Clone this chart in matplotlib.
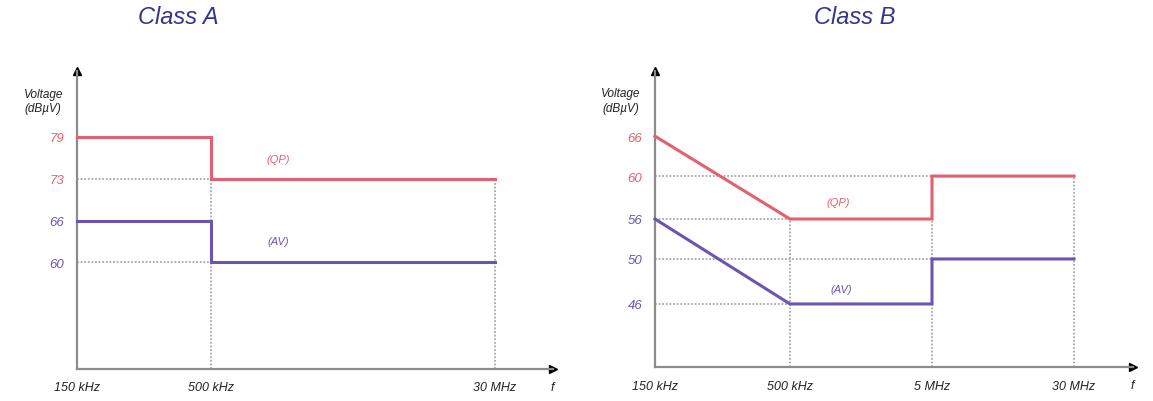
import numpy as np
import matplotlib.pyplot as plt

# conducted emission limits, frequency in MHz, level in dBuV
freq_a = [0.15, 0.5, 0.5, 30]
qp_a = [79, 79, 73, 73]
av_a = [66, 66, 60, 60]

freq_b = [0.15, 0.5, 5, 5, 30]
qp_b = [66, 56, 56, 60, 60]
av_b = [56, 46, 46, 50, 50]

xticks_a = [0.15, 0.5, 30]
xlabels_a = ['150 kHz', '500 kHz', '30 MHz']
xticks_b = [0.15, 0.5, 5, 30]
xlabels_b = ['150 kHz', '500 kHz', '5 MHz', '30 MHz']

yticks_a_qp = [79, 73]
yticks_a_av = [66, 60]
yticks_b_qp = [66, 60]
yticks_b_av = [56, 50, 46]

RED = '#e4606e'
PURPLE = '#6c54b4'
AXIS = '#8c8c8c'
GRID = '#a8a8a8'
FONT = 'Liberation Sans'


def piecewise(xs, ys):
    xs = np.asarray(xs, float)
    ys = np.asarray(ys, float)

    def f(v):
        v = np.asarray(v, float)
        out = np.interp(v, xs, ys)
        lo = ys[0] + (v - xs[0]) * (ys[1] - ys[0]) / (xs[1] - xs[0])
        hi = ys[-1] + (v - xs[-1]) * (ys[-1] - ys[-2]) / (xs[-1] - xs[-2])
        out = np.where(v < xs[0], lo, out)
        out = np.where(v > xs[-1], hi, out)
        return out
    return f


def freq_scale(freqs, pos):
    lf = np.log10(freqs)
    fw = piecewise(lf, pos)
    bw = piecewise(pos, lf)

    def forward(f):
        with np.errstate(divide='ignore', invalid='ignore'):
            return fw(np.log10(np.asarray(f, float)))

    def inverse(p):
        return 10 ** bw(p)
    return forward, inverse


def level_scale(levels, pos):
    return piecewise(levels, pos), piecewise(pos, levels)


W, H = 1153, 402
fig = plt.figure(figsize=(W / 100, H / 100), dpi=100)


def panel(left, right, top, bottom, xs, xpos, ys, ypos):
    ax = fig.add_axes([left / W, 1 - bottom / H, (right - left) / W, (bottom - top) / H])
    fx = freq_scale(xs, xpos)
    fy = level_scale(ys, ypos)
    ax.set_xscale('function', functions=fx)
    ax.set_yscale('function', functions=fy)
    ax.set_xlim(float(fx[1](0.0)), float(fx[1](1.0)))
    ax.set_ylim(float(fy[1](0.0)), float(fy[1](1.0)))
    for s in ['top', 'right']:
        ax.spines[s].set_visible(False)
    for s in ['left', 'bottom']:
        ax.spines[s].set_color(AXIS)
        ax.spines[s].set_linewidth(1.6)
    ax.plot([0], [1], marker='^', ms=6, color='black', transform=ax.transAxes, clip_on=False)
    ax.plot([1], [0], marker='>', ms=6, color='black', transform=ax.transAxes, clip_on=False)
    ax.tick_params(length=0)
    ax.patch.set_alpha(0)
    return ax


def dress(ax, xticks, xlabels, qp_ticks, av_ticks):
    ax.set_xticks(xticks)
    ax.set_xticklabels(xlabels, fontstyle='italic', fontfamily=FONT, fontsize=9, color='#222222')
    ax.tick_params(axis='x', pad=9)
    yt = qp_ticks + av_ticks
    ax.set_yticks(yt)
    ax.set_yticklabels([str(v) for v in yt], fontstyle='italic', fontfamily=FONT, fontsize=9.5)
    for lab, v in zip(ax.get_yticklabels(), yt):
        lab.set_color(RED if v in qp_ticks else PURPLE)
    ax.tick_params(axis='y', pad=9)
    ax.text(-0.071, 0.9, 'Voltage\n(dBµV)', transform=ax.transAxes, ha='center', va='center',
            fontsize=8.5, fontstyle='italic', fontfamily=FONT, color='#222222', linespacing=1.25)
    ax.text(0.998, -0.06, 'f', transform=ax.transAxes, ha='center', va='center',
            fontsize=9, fontstyle='italic', fontfamily=FONT, color='#222222')


dot = dict(color=GRID, lw=1.3, ls=(0, (1, 1)), zorder=1)

# Class A
ax = panel(77, 553, 72, 370, [0.15, 0.5, 30], [0, 0.2815, 0.878],
           [60, 66, 73, 79], [0.359, 0.497, 0.638, 0.779])
ax.hlines([73, 60], 0.15, 0.5, **dot)
ax.vlines(0.5, ax.get_ylim()[0], 79, **dot)
ax.vlines(30, ax.get_ylim()[0], 73, **dot)
ax.plot(freq_a, qp_a, color=RED, lw=2.2, zorder=3, solid_joinstyle='miter', clip_on=False)
ax.plot(freq_a, av_a, color=PURPLE, lw=2.2, zorder=3, solid_joinstyle='miter', clip_on=False)
ax.text(0.422, 0.705, '(QP)', transform=ax.transAxes, ha='center', va='center',
        fontsize=8, fontstyle='italic', fontfamily=FONT, color=RED)
ax.text(0.422, 0.43, '(AV)', transform=ax.transAxes, ha='center', va='center',
        fontsize=8, fontstyle='italic', fontfamily=FONT, color=PURPLE)
dress(ax, xticks_a, xlabels_a, yticks_a_qp, yticks_a_av)

# Class B
ax = panel(655, 1133, 72, 368, [0.15, 0.5, 5, 30], [0, 0.2824, 0.5795, 0.8766],
           [46, 50, 56, 60, 66], [0.213, 0.365, 0.5, 0.645, 0.780])
ax.hlines([60, 50], 0.15, 5, **dot)
ax.hlines([56, 46], 0.15, 0.5, **dot)
ax.vlines(0.5, ax.get_ylim()[0], 56, **dot)
ax.vlines([5, 30], ax.get_ylim()[0], 60, **dot)
ax.plot(freq_b, qp_b, color=RED, lw=2.2, zorder=3, solid_joinstyle='miter', clip_on=False)
ax.plot(freq_b, av_b, color=PURPLE, lw=2.2, zorder=3, solid_joinstyle='miter', clip_on=False)
ax.text(0.383, 0.557, '(QP)', transform=ax.transAxes, ha='center', va='center',
        fontsize=8, fontstyle='italic', fontfamily=FONT, color=RED)
ax.text(0.39, 0.264, '(AV)', transform=ax.transAxes, ha='center', va='center',
        fontsize=8, fontstyle='italic', fontfamily=FONT, color=PURPLE)
dress(ax, xticks_b, xlabels_b, yticks_b_qp, yticks_b_av)

fig.text(178 / W, 1 - 18 / H, 'Class A', ha='center', va='center', fontsize=17,
         fontstyle='italic', fontfamily=FONT, color='#34348f')
fig.text(855 / W, 1 - 17 / H, 'Class B', ha='center', va='center', fontsize=17,
         fontstyle='italic', fontfamily=FONT, color='#34348f')

fig.savefig('out.png', dpi=100)
